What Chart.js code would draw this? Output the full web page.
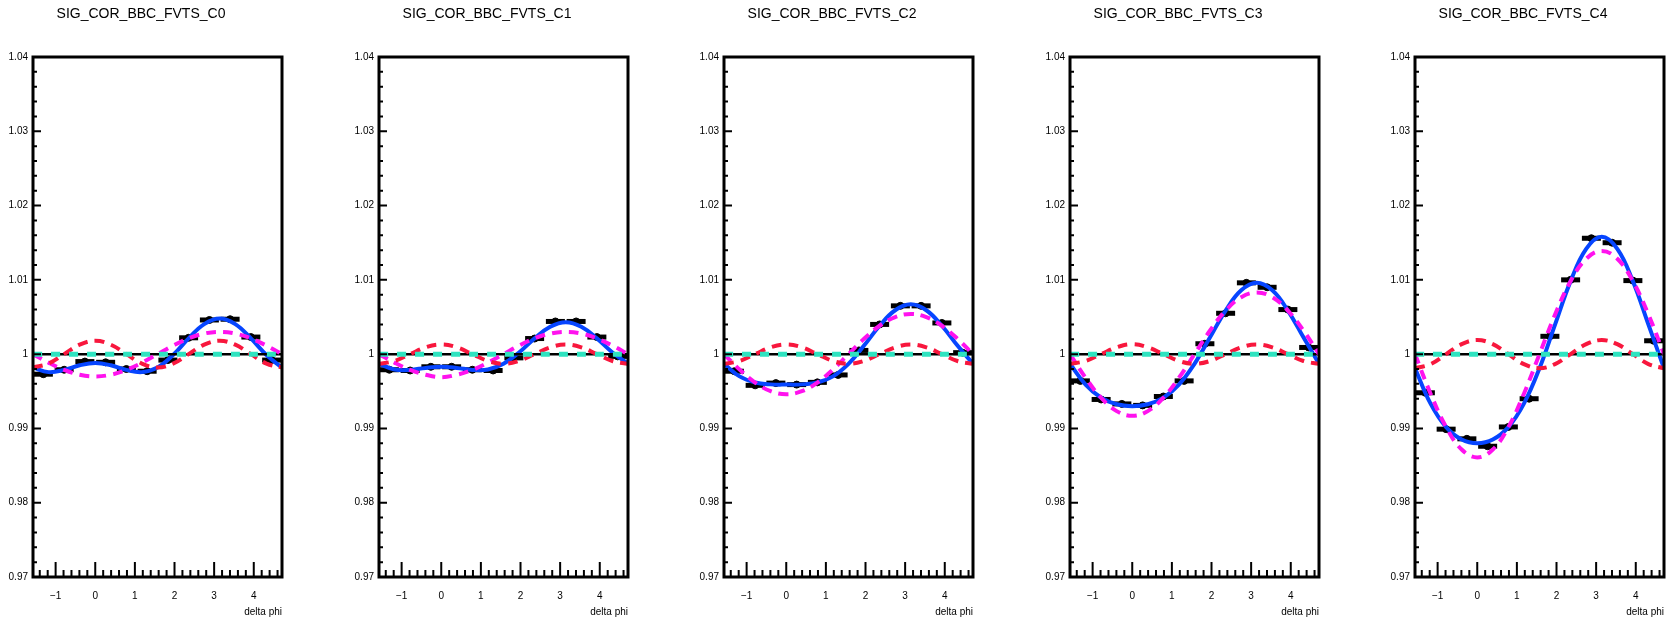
<!DOCTYPE html>
<html>
<head>
<meta charset="utf-8">
<script src="https://cdn.jsdelivr.net/npm/chart.js@4.4.1/dist/chart.umd.min.js"></script>
<style>
  html, body { margin: 0; padding: 0; background: #fff; overflow: hidden; }
  .pad { position: absolute; top: 0; width: 315px; height: 620px; }
</style>
</head>
<body>
<script>
const panelTitles = [
    'SIG_COR_BBC_FVTS_C0',
    'SIG_COR_BBC_FVTS_C1',
    'SIG_COR_BBC_FVTS_C2',
    'SIG_COR_BBC_FVTS_C3',
    'SIG_COR_BBC_FVTS_C4',
];

// delta phi bin centres (12 bins over -pi/2 .. 3pi/2)
const binCenters = [-1.309, -0.785, -0.262, 0.262, 0.785, 1.309, 1.833, 2.356, 2.880, 3.403, 3.927, 4.451];

// measured correlation per bin
const corrC0 = [0.9973, 0.9979, 0.9990, 0.9989, 0.9980, 0.9977, 0.9992, 1.0022, 1.0046, 1.0047, 1.0023, 0.9992];
const corrC1 = [0.9979, 0.9978, 0.9983, 0.9983, 0.9979, 0.9978, 0.9995, 1.0021, 1.0044, 1.0044, 1.0023, 0.9997];
const corrC2 = [0.9977, 0.9958, 0.9961, 0.9959, 0.9962, 0.9972, 1.0005, 1.0040, 1.0065, 1.0065, 1.0042, 1.0002];
const corrC3 = [0.9964, 0.9939, 0.9933, 0.9931, 0.9943, 0.9964, 1.0014, 1.0055, 1.0096, 1.0090, 1.0060, 1.0009];
const corrC4 = [0.9948, 0.9899, 0.9886, 0.9876, 0.9902, 0.9940, 1.0024, 1.0100, 1.0156, 1.0150, 1.0099, 1.0018];

// positions where the fit curves are sampled
const curvePhi = [-1.571, -1.178, -0.785, -0.393, 0, 0.393, 0.785, 1.178, 1.571, 1.963, 2.356, 2.749, 3.142, 3.534, 3.927, 4.320, 4.712];

// full fit (blue)
const fitC0 = [0.9982, 0.99758, 0.99788, 0.9985, 0.9988, 0.9985, 0.99788, 0.99758, 0.9982, 0.99988, 1.00212, 1.00404, 1.0048, 1.00404, 1.00212, 0.99988, 0.9982];
const fitC1 = [0.9987, 0.99793, 0.99788, 0.99815, 0.9983, 0.99815, 0.99788, 0.99793, 0.9987, 1.00023, 1.00212, 1.00369, 1.0043, 1.00369, 1.00212, 1.00023, 0.9987];
const fitC2 = [0.9987, 0.99701, 0.99618, 0.99593, 0.9959, 0.99593, 0.99618, 0.99701, 0.9987, 1.00115, 1.00382, 1.00591, 1.0067, 1.00591, 1.00382, 1.00115, 0.9987];
const fitC3 = [0.9987, 0.9959, 0.99413, 0.99325, 0.993, 0.99325, 0.99413, 0.9959, 0.9987, 1.00226, 1.00587, 1.00859, 1.0096, 1.00859, 1.00587, 1.00226, 0.9987];
const fitC4 = [0.9981, 0.99334, 0.99017, 0.9885, 0.988, 0.9885, 0.99017, 0.99334, 0.9981, 1.00398, 1.00983, 1.01418, 1.0158, 1.01418, 1.00983, 1.00398, 0.9981];

// first harmonic term (magenta)
const v1C0 = [1, 0.99885, 0.99788, 0.99723, 0.997, 0.99723, 0.99788, 0.99885, 1, 1.00115, 1.00212, 1.00277, 1.003, 1.00277, 1.00212, 1.00115, 1];
const v1C1 = [1, 0.99885, 0.99788, 0.99723, 0.9969, 0.99723, 0.99788, 0.99885, 1, 1.00115, 1.00212, 1.00277, 1.003, 1.00277, 1.00212, 1.00115, 1];
const v1C2 = [1, 0.99793, 0.99618, 0.99501, 0.9946, 0.99501, 0.99618, 0.99793, 1, 1.00207, 1.00382, 1.00499, 1.0054, 1.00499, 1.00382, 1.00207, 1];
const v1C3 = [1, 0.99682, 0.99413, 0.99233, 0.9917, 0.99233, 0.99413, 0.99682, 1, 1.00318, 1.00587, 1.00767, 1.0083, 1.00767, 1.00587, 1.00318, 1];
const v1C4 = [1, 0.99468, 0.99017, 0.98716, 0.9861, 0.98716, 0.99017, 0.99468, 1, 1.00532, 1.00983, 1.01284, 1.0139, 1.01284, 1.00983, 1.00532, 1];

// second harmonic term (red)
const v2C0 = [0.9982, 0.99873, 1, 1.00127, 1.0018, 1.00127, 1, 0.99873, 0.9982, 0.99873, 1, 1.00127, 1.0018, 1.00127, 1, 0.99873, 0.9982];
const v2C1 = [0.9987, 0.99908, 1, 1.00092, 1.0013, 1.00092, 1, 0.99908, 0.9987, 0.99908, 1, 1.00092, 1.0013, 1.00092, 1, 0.99908, 0.9987];
const v2C2 = [0.9987, 0.99908, 1, 1.00092, 1.0013, 1.00092, 1, 0.99908, 0.9987, 0.99908, 1, 1.00092, 1.0013, 1.00092, 1, 0.99908, 0.9987];
const v2C3 = [0.9987, 0.99908, 1, 1.00092, 1.00135, 1.00092, 1, 0.99908, 0.9987, 0.99908, 1, 1.00092, 1.0013, 1.00092, 1, 0.99908, 0.9987];
const v2C4 = [0.9981, 0.99866, 1, 1.00134, 1.0019, 1.00134, 1, 0.99866, 0.9981, 0.99866, 1, 1.00134, 1.0019, 1.00134, 1, 0.99866, 0.9981];

// third harmonic (teal) and the unity reference line
const flatPhi = [-1.571, 4.712];
const v3Level = [1, 1];
const unityLevel = [1, 1];

const corrSets = [corrC0, corrC1, corrC2, corrC3, corrC4];
const fitSets = [fitC0, fitC1, fitC2, fitC3, fitC4];
const v1Sets = [v1C0, v1C1, v1C2, v1C3, v1C4];
const v2Sets = [v2C0, v2C1, v2C2, v2C3, v2C4];

Chart.defaults.font.family = '"Liberation Sans", Arial, Helvetica, sans-serif';
Chart.defaults.color = '#000';

const xy = (xs, ys) => xs.map((x, i) => ({x: x, y: ys[i]}));
const isMajorY = v => Math.abs(v * 100 - Math.round(v * 100)) < 1e-6;
const isMajorX = v => Math.abs(v - Math.round(v)) < 1e-6;

// ROOT style frame: box plus ticks pointing into the pad
const rootFrame = {
    id: 'rootFrame',
    afterDraw(chart) {
        const {ctx, chartArea: a, scales: {x, y}} = chart;
        ctx.save();
        ctx.strokeStyle = '#000';
        ctx.lineWidth = 2;
        ctx.beginPath();
        x.ticks.forEach(t => {
            const px = x.getPixelForValue(t.value);
            ctx.moveTo(px, a.bottom);
            ctx.lineTo(px, a.bottom - (isMajorX(t.value) ? 15 : 7));
        });
        y.ticks.forEach(t => {
            const py = y.getPixelForValue(t.value);
            ctx.moveTo(a.left, py);
            ctx.lineTo(a.left + (isMajorY(t.value) ? 8 : 4), py);
        });
        ctx.stroke();
        ctx.lineWidth = 3;
        ctx.strokeRect(a.left, a.top, a.right - a.left, a.bottom - a.top);
        ctx.restore();
    }
};

function curve(data, color, width, dash, order) {
    return {
        data: data,
        borderColor: color,
        borderWidth: width,
        borderDash: dash,
        pointRadius: 0,
        tension: 0.4,
        fill: false,
        order: order,
    };
}

function showPanel(i) {
    const holder = document.createElement('div');
    holder.className = 'pad';
    holder.style.left = Math.round(i * 345.5) + 'px';
    const canvas = document.createElement('canvas');
    canvas.width = 315;
    canvas.height = 620;
    canvas.style.width = '315px';
    canvas.style.height = '620px';
    holder.appendChild(canvas);
    document.body.appendChild(holder);

    new Chart(canvas, {
        type: 'line',
        data: {
            datasets: [
                curve(xy(flatPhi, v3Level), '#2fe3c0', 5, [9, 9], 0),
                curve(xy(curvePhi, v2Sets[i]), '#f8173d', 4, [10, 7], 1),
                curve(xy(curvePhi, v1Sets[i]), '#ff12ee', 4, [10, 7], 2),
                curve(xy(flatPhi, unityLevel), '#000', 2.5, [], 3),
                curve(xy(curvePhi, fitSets[i]), '#0645ff', 4, [], 4),
                {
                    data: xy(binCenters, corrSets[i]),
                    showLine: false,
                    pointStyle: 'circle',
                    pointRadius: 3.5,
                    pointBackgroundColor: '#000',
                    pointBorderColor: '#000',
                    pointBorderWidth: 1,
                    order: 5,
                },
                {
                    data: xy(binCenters, corrSets[i]),
                    showLine: false,
                    pointStyle: 'line',
                    pointRadius: 9.5,
                    pointBorderColor: '#000',
                    pointBorderWidth: 5,
                    order: 6,
                },
            ]
        },
        options: {
            responsive: false,
            animation: false,
            events: [],
            layout: {padding: {left: 0, right: 33, top: 0, bottom: 0}},
            plugins: {
                legend: {display: false},
                tooltip: {enabled: false},
                title: {
                    display: true,
                    text: panelTitles[i],
                    color: '#000',
                    font: {size: 14, weight: 'normal'},
                    padding: {top: 5.6, bottom: 34.6},
                },
            },
            scales: {
                x: {
                    type: 'linear',
                    min: -Math.PI / 2,
                    max: 3 * Math.PI / 2,
                    afterFit: s => { s.height = 43; },
                    grid: {display: false, drawTicks: false},
                    border: {display: false},
                    ticks: {
                        stepSize: 0.2,
                        includeBounds: false,
                        autoSkip: false,
                        maxRotation: 0,
                        minRotation: 0,
                        padding: 13,
                        font: {size: 10},
                        callback: v => isMajorX(v) ? String(Math.round(v)).replace('-', '\u2212') : '',
                    },
                    title: {
                        display: true,
                        text: 'delta phi',
                        align: 'end',
                        font: {size: 10},
                        padding: {top: 0, bottom: 2},
                    },
                },
                y: {
                    min: 0.97,
                    max: 1.04,
                    afterFit: s => { s.width = 33; },
                    grid: {display: false, drawTicks: false},
                    border: {display: false},
                    ticks: {
                        stepSize: 0.002,
                        autoSkip: false,
                        padding: 5,
                        font: {size: 10},
                        callback: v => isMajorY(v) ? String(Math.round(v * 100) / 100) : '',
                    },
                },
            },
        },
        plugins: [rootFrame],
    });
}

for (let i = 0; i < panelTitles.length; i++) {
    showPanel(i);
}
</script>
</body>
</html>
